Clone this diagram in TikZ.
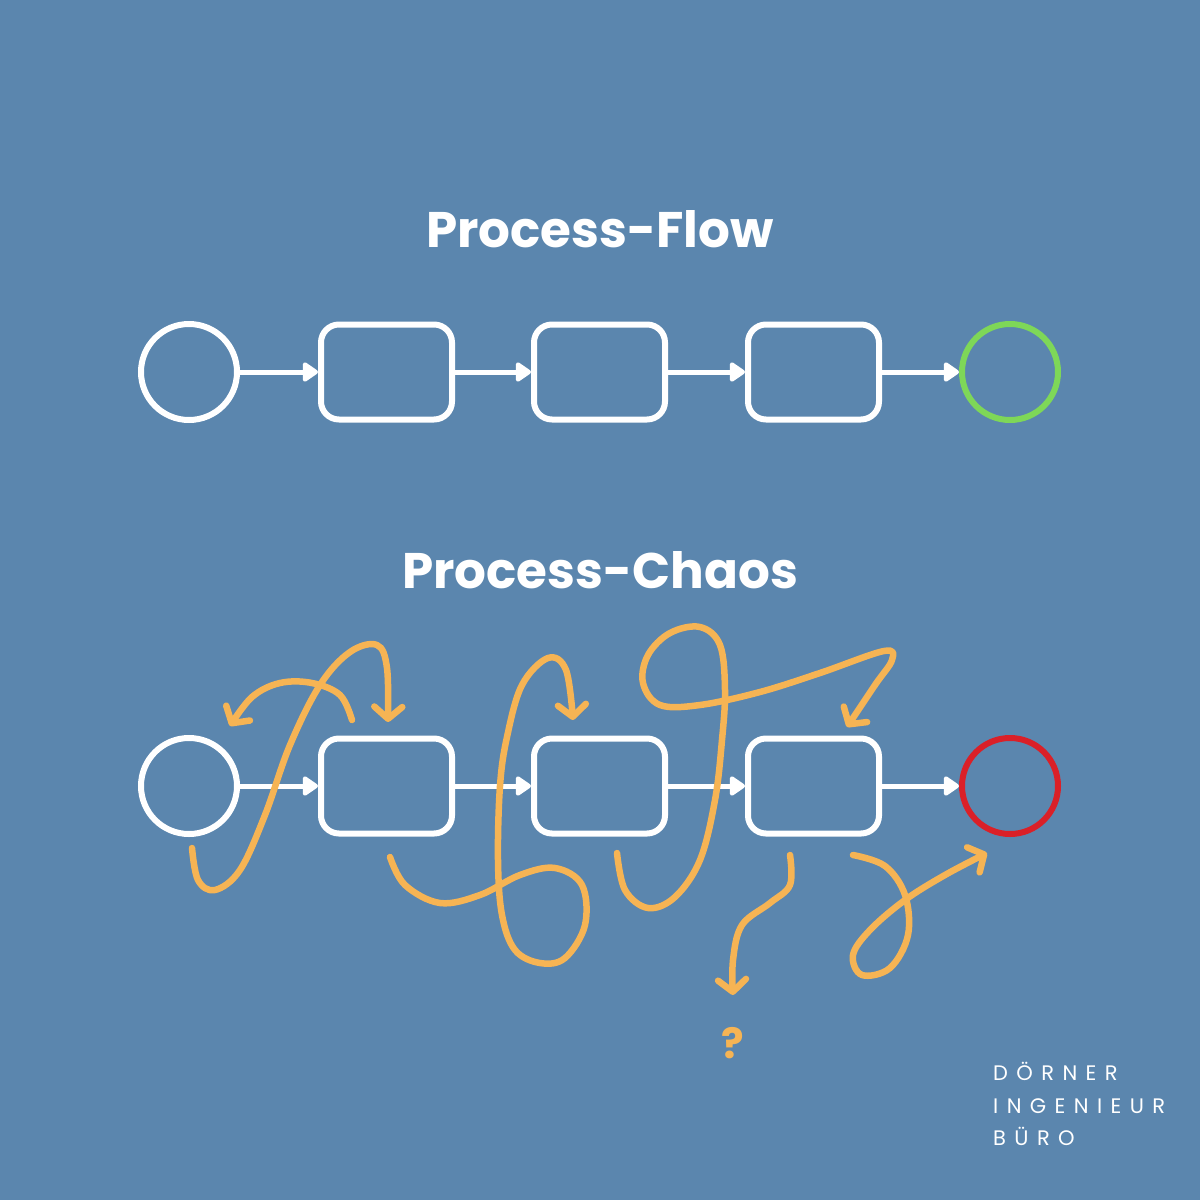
\documentclass[tikz,border=0pt]{standalone}
\usepackage{fontspec}
\setmainfont{Poppins}
\usetikzlibrary{arrows.meta}
\definecolor{bg}{RGB}{91,134,174}
\definecolor{okgreen}{RGB}{126,215,88}
\definecolor{badred}{RGB}{218,32,40}
\definecolor{chaos}{RGB}{246,180,84}
\begin{document}
\begin{tikzpicture}[x=1pt,y=-1pt,
  state/.style={circle,draw=white,line width=6pt,minimum size=96pt,inner sep=0pt},
  task/.style={rectangle,rounded corners=18pt,draw=white,line width=6pt,minimum width=131pt,minimum height=95pt,inner sep=0pt},
  flow/.style={draw=white,line width=5pt,-{Triangle[length=17pt,width=22pt,round]}},
  squiggle/.style={draw=chaos,line width=6.5pt,line cap=round,line join=round,-{Straight Barb[length=12pt,width=28pt,round]}},
  title/.style={text=white,font=\fontsize{50}{58}\selectfont\bfseries,anchor=base},
  logo/.style={text=white,font=\fontsize{21}{24}\selectfont\addfontfeatures{LetterSpace=40},anchor=base west,inner sep=0pt}]
\useasboundingbox (0,0) rectangle (1200,1200);
\fill[bg] (0,0) rectangle (1200,1200);

% Titles
\node[title] (t1) at (600,247) {Process-Flow};
\node[title] (t2) at (600,588) {Process-Chaos};

% Top row
\node[state] (s1) at (189,372) {};
\node[task] (a1) at (386.5,372) {};
\node[task] (a2) at (599.5,372) {};
\node[task] (a3) at (813.5,372) {};
\node[state,draw=okgreen] (e1) at (1010,372) {};
\draw[flow] (s1) -- (a1);
\draw[flow] (a1) -- (a2);
\draw[flow] (a2) -- (a3);
\draw[flow] (a3) -- (e1);

% Bottom row
\node[state] (s2) at (189,786) {};
\node[task] (b1) at (386.5,786) {};
\node[task] (b2) at (599.5,786) {};
\node[task] (b3) at (813.5,786) {};
\node[state,draw=badred] (e2) at (1010,786) {};
\draw[flow] (s2) -- (b1);
\draw[flow] (b1) -- (b2);
\draw[flow] (b2) -- (b3);
\draw[flow] (b3) -- (e2);

% Chaos squiggles
\draw[squiggle] plot[smooth,tension=0.6] coordinates {(192,848) (198,880) (215,890) (240,870) (265,815) (290,745) (320,685) (350,652) (377,645) (387,668) (388,722)};
\draw[squiggle] plot[smooth,tension=0.6] coordinates {(352,720) (340,695) (312,683) (280,683) (252,697) (230,726)};
\draw[squiggle] plot[smooth,tension=0.6] coordinates {(390,857) (405,885) (440,903) (480,895) (520,875) (555,868) (582,885) (585,925) (565,958) (540,963) (515,950) (502,915) (498,860) (500,786) (507,737) (522,685) (548,658) (566,670) (573,720)};
\draw[squiggle] plot[smooth,tension=0.6] coordinates {(617,853) (625,890) (648,908) (675,897) (700,860) (715,800) (722,740) (725,690) (720,645) (700,627) (670,633) (648,655) (643,683) (660,705) (700,705) (760,692) (820,673) (884,651) (892,660) (875,685) (847,727)};
\draw[squiggle] plot[smooth,tension=0.6] coordinates {(790,855) (790,885) (770,903) (742,925) (733,960) (733,995)};
\draw[squiggle] plot[smooth,tension=0.6] coordinates {(853,855) (885,866) (905,895) (908,935) (890,968) (862,975) (853,955) (870,930) (905,900) (945,875) (987,853)};
\node[text=chaos,font=\fontsize{42}{48}\selectfont\bfseries,anchor=base] (q) at (733,1058) {?};

% Logo
\node[logo] (l1) at (993,1080) {DÖRNER};
\node[logo] (l2) at (993,1113) {INGENIEUR};
\node[logo] (l3) at (993,1145) {BÜRO};
\end{tikzpicture}
\end{document}
